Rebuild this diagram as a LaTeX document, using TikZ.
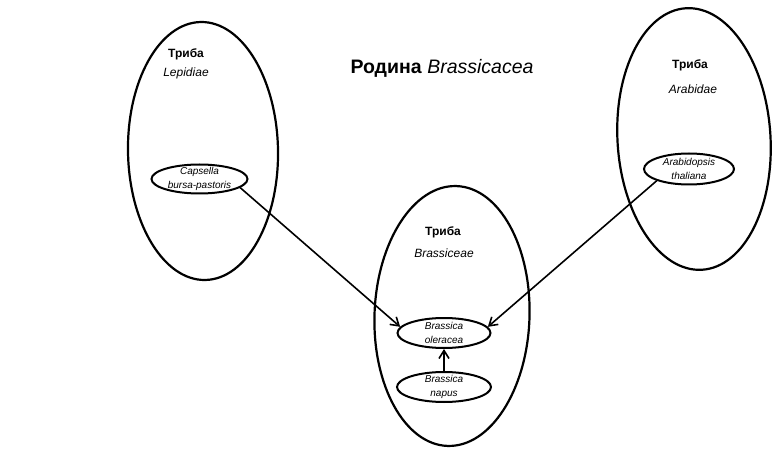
\documentclass[tikz,border=0pt]{standalone}
\usepackage{fontspec}
\setmainfont{Liberation Sans}
\usetikzlibrary{shapes.geometric,arrows.meta}
\begin{document}
\begin{tikzpicture}[x=1pt,y=-1pt,
  big/.style={draw, ellipse, line width=2.2pt, inner sep=0pt},
  sp/.style={draw, ellipse, line width=2pt, inner xsep=-10pt, inner ysep=-5pt, align=center,
    font=\fontsize{10}{14.5}\selectfont\itshape},
  tribe/.style={font=\fontsize{12}{14}\selectfont\bfseries},
  tname/.style={font=\fontsize{12}{14}\selectfont\itshape},
  arr/.style={line width=1.6pt, -{Straight Barb[length=8pt,width=10pt,line width=1.6pt]}}]
\useasboundingbox (0,0) rectangle (782,449);
\fill[white] (0,0) rectangle (782,449);

% tribes (big ellipses)
\node[big, minimum width=150pt, minimum height=258pt, rotate=1] (lep) at (203,151) {};
\node[big, minimum width=153pt, minimum height=262pt, rotate=3.5] (arab) at (694,139) {};
\node[big, minimum width=155pt, minimum height=260pt, rotate=-2] (brass) at (452,316) {};

% title
\node (title) at (442,68) {\fontsize{19.5}{23}\selectfont\textbf{Родина} \textit{Brassicacea}};

% tribe labels
\node[tribe] (t1) at (186,54) {Триба};
\node[tname] (n1) at (186,73) {Lepidiae};
\node[tribe] (t2) at (690,65) {Триба};
\node[tname] (n2) at (693,89) {Arabidae};
\node[tribe] (t3) at (443,232) {Триба};
\node[tname] (n3) at (444,253) {Brassiceae};

% species
\node[sp, minimum width=96pt, minimum height=29pt] (caps) at (199.5,179) {Capsella\\bursa-pastoris};
\node[sp, minimum width=90pt, minimum height=31pt] (arabi) at (689,169) {Arabidopsis\\thaliana};
\node[sp, minimum width=93pt, minimum height=30pt] (oler) at (444,333) {Brassica\\oleracea};
\node[sp, minimum width=94pt, minimum height=30pt] (napus) at (444,387) {Brassica\\napus};

% connectors
\draw[arr] (caps.-12) -- (oler.172);
\draw[arr] (arabi.200) -- (oler.8);
\draw[arr] (napus.north) -- (oler.south);
\end{tikzpicture}
\end{document}
